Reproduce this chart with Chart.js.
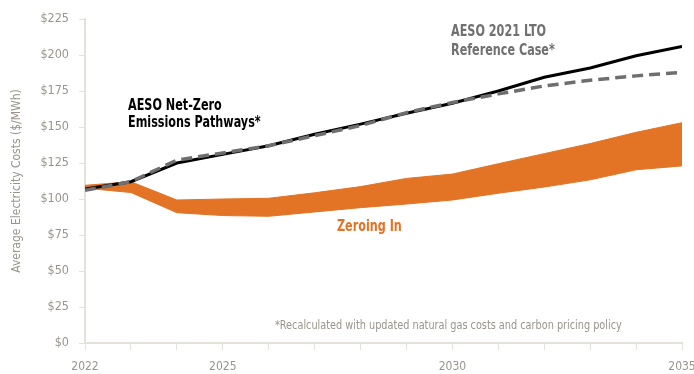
<!DOCTYPE html>
<html>
<head>
<meta charset="utf-8">
<script src="https://cdn.jsdelivr.net/npm/chart.js@4"></script>
<style>
  html, body { margin: 0; padding: 0; background: #fff; }
  #wrap { width: 694px; height: 374px; }
</style>
</head>
<body>
<div id="wrap"><canvas id="costChart" width="694" height="374"></canvas></div>
<script>
// Data
const years = [2022, 2023, 2024, 2025, 2026, 2027, 2028, 2029, 2030, 2031, 2032, 2033, 2034, 2035];
const netZero = [107, 112, 125, 131, 137, 145, 152, 159.5, 166.5, 175, 184.5, 191, 199.5, 206];
const ltoReference = [106, 112, 127, 132, 137, 144, 151, 160, 167, 173, 178.5, 182.5, 185.5, 188];
const zeroingHigh = [109.5, 112, 99.3, 100, 100.5, 104.3, 108.6, 114.3, 117.3, 124.5, 131.5, 138.5, 146.3, 153];
const zeroingLow = [107.5, 104.5, 90.5, 88.5, 88, 91, 94, 96.5, 99.3, 104, 108.3, 113.3, 120.3, 123];
const xTickLabels = [2022, 2025, 2030, 2035];

const fontFamily = '"DejaVu Sans Condensed", "Liberation Sans Narrow", sans-serif';
const orange = "#e37325";
const axisGrey = "#e6e2da";
const textGrey = "#9a948b";

function pts(arr) {
    return years.map((yr, i) => ({ x: yr, y: arr[i] }));
}

// draws text squeezed sideways, the original uses a condensed face
function narrowText(c, text, x, y, squeeze) {
    c.save();
    c.translate(x, y);
    c.scale(squeeze, 1);
    c.fillText(text, 0, 0);
    c.restore();
}

// Text labels drawn on the chart
const labelPlugin = {
    id: "labels",
    afterDatasetsDraw(chart) {
        const c = chart.ctx;
        c.save();
        c.textBaseline = "middle";
        c.textAlign = "left";

        c.font = "bold 15px " + fontFamily;
        c.fillStyle = "#000000";
        narrowText(c, "AESO Net-Zero", 128, 106, 0.83);
        narrowText(c, "Emissions Pathways*", 128, 123, 0.83);

        c.fillStyle = "#707070";
        narrowText(c, "AESO 2021 LTO", 451, 32, 0.83);
        narrowText(c, "Reference Case*", 451, 51, 0.83);

        c.fillStyle = orange;
        narrowText(c, "Zeroing In", 337, 227, 0.83);

        c.font = "12px " + fontFamily;
        c.fillStyle = textGrey;
        narrowText(c, "*Recalculated with updated natural gas costs and carbon pricing policy", 275, 326, 0.9);
        c.restore();
    }
};

const ctx = document.getElementById("costChart").getContext("2d");
const costChart = new Chart(ctx, {
    type: "line",
    data: {
        datasets: [
            {
                label: "AESO 2021 LTO Reference Case",
                data: pts(ltoReference),
                borderColor: "#6e6e6e",
                borderWidth: 3.5,
                borderDash: [11, 6],
                pointRadius: 0,
                fill: false,
                tension: 0,
                order: 0
            },
            {
                label: "AESO Net-Zero Emissions Pathways",
                data: pts(netZero),
                borderColor: "#000000",
                borderWidth: 3,
                pointRadius: 0,
                fill: false,
                tension: 0,
                order: 1
            },
            {
                label: "Zeroing In (high)",
                data: pts(zeroingHigh),
                borderColor: orange,
                backgroundColor: orange,
                borderWidth: 1,
                pointRadius: 0,
                fill: "+1",
                tension: 0,
                order: 2
            },
            {
                label: "Zeroing In (low)",
                data: pts(zeroingLow),
                borderColor: orange,
                borderWidth: 1,
                pointRadius: 0,
                fill: false,
                tension: 0,
                order: 3
            }
        ]
    },
    options: {
        responsive: false,
        animation: false,
        layout: { padding: { top: 19, right: 12, left: 0, bottom: 0 } },
        plugins: {
            legend: { display: false },
            tooltip: { enabled: false }
        },
        scales: {
            x: {
                type: "linear",
                min: 2022,
                max: 2035,
                afterBuildTicks: (scale) => {
                    scale.ticks = years.map(v => ({ value: v }));
                },
                afterFit: (scale) => {
                    scale.height = 31;
                    scale.paddingRight = 0;
                },
                grid: {
                    drawOnChartArea: false,
                    drawTicks: true,
                    tickLength: 7,
                    color: axisGrey
                },
                border: { color: axisGrey, width: 2 },
                ticks: {
                    autoSkip: false,
                    maxRotation: 0,
                    padding: 10,
                    color: textGrey,
                    font: { family: fontFamily, size: 12 },
                    callback: (v) => xTickLabels.includes(v) ? String(v) : ""
                }
            },
            y: {
                min: 0,
                max: 225,
                afterFit: (scale) => { scale.width = 85; },
                grid: {
                    drawOnChartArea: false,
                    drawTicks: true,
                    tickLength: 6,
                    color: axisGrey
                },
                border: { color: axisGrey, width: 2 },
                ticks: {
                    stepSize: 25,
                    padding: 10,
                    color: textGrey,
                    font: { family: fontFamily, size: 12.5 },
                    callback: (v) => "$" + v
                },
                title: {
                    display: true,
                    text: "Average Electricity Costs ($/MWh)",
                    color: textGrey,
                    font: { family: fontFamily, size: 12 },
                    padding: { top: 10, bottom: 0 }
                }
            }
        }
    },
    plugins: [labelPlugin]
});
</script>
</body>
</html>
